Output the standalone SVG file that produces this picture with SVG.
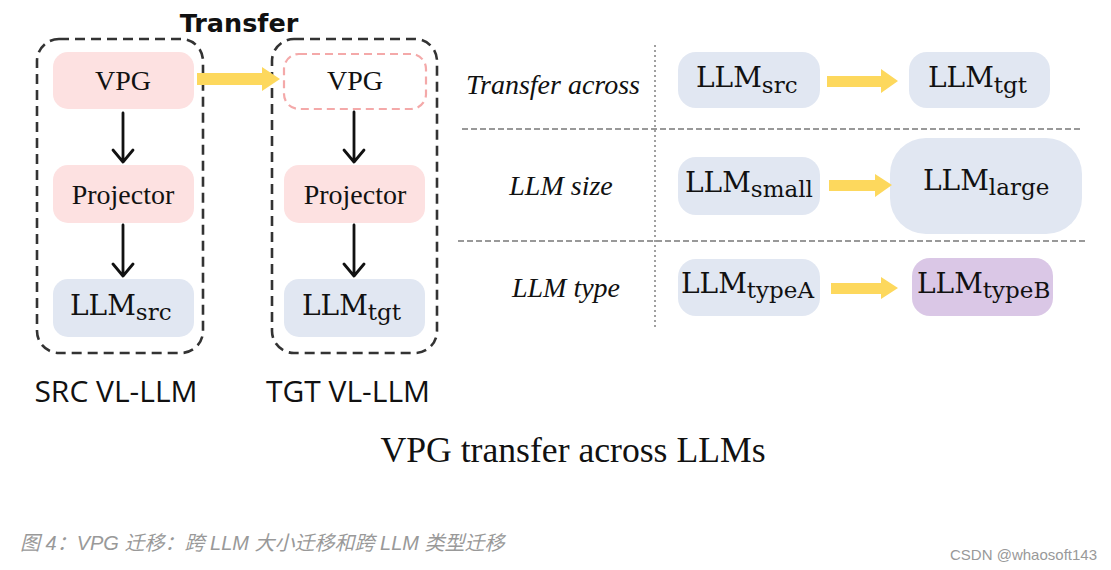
<svg xmlns="http://www.w3.org/2000/svg" width="1111" height="570" viewBox="0 0 1111 570">
<style>
.grp{fill:none;stroke:#333;stroke-width:2.6;stroke-dasharray:10 6}
.pink{fill:#fde1e1}
.blue{fill:#e1e7f2}
.purple{fill:#dac7e6}
.t{font-family:"Liberation Serif",serif;font-size:28px;fill:#111;text-anchor:middle}
.m{font-family:"DejaVu Serif",serif;font-size:28px;fill:#111}
.s{font-size:23px}
.lab{font-family:"Liberation Serif",serif;font-style:italic;font-size:28px;fill:#111;text-anchor:middle}
.ttl{font-family:"Open Sans",sans-serif;font-size:30px;fill:#111;text-anchor:middle}
.yel{fill:#fdd85d}
.blk{fill:none;stroke:#111;stroke-width:2.8;stroke-linecap:round;stroke-linejoin:round}
</style>
<rect width="1111" height="570" fill="#fff"/>

<g id="src-group">
<rect class="grp" x="37" y="39" width="166" height="314" rx="22"/>
<text class="ttl" x="116" y="402">SRC VL-LLM</text>
</g>
<g id="tgt-group">
<rect class="grp" x="272" y="39" width="165" height="314" rx="22"/>
<text class="ttl" x="348" y="402">TGT VL-LLM</text>
</g>
<g id="transfer-label">
<text x="239" y="32" font-family="DejaVu Sans, sans-serif" font-weight="bold" font-size="25.5" text-anchor="middle" fill="#111">Transfer</text>
</g>

<g id="src-vpg"><rect class="pink" x="53" y="52" width="141" height="57" rx="15"/><text class="t" x="123" y="90">VPG</text></g>
<g id="src-proj"><rect class="pink" x="53" y="165" width="141" height="58" rx="15"/><text class="t" x="123" y="204">Projector</text></g>
<g id="src-llm"><rect class="blue" x="53" y="279" width="141" height="58" rx="15"/><text class="m" x="70" y="315">LLM<tspan class="s" dy="5">src</tspan></text></g>

<g id="tgt-vpg"><rect x="284" y="54" width="142" height="55" rx="15" fill="#fff" stroke="#f4a9a9" stroke-width="2.2" stroke-dasharray="8 5"/><text class="t" x="355" y="90">VPG</text></g>
<g id="tgt-proj"><rect class="pink" x="284" y="165" width="141" height="58" rx="15"/><text class="t" x="355" y="204">Projector</text></g>
<g id="tgt-llm"><rect class="blue" x="284" y="279" width="141" height="58" rx="15"/><text class="m" x="302" y="315">LLM<tspan class="s" dy="5">tgt</tspan></text></g>

<g id="r1-src"><rect class="blue" x="678" y="52" width="142" height="56" rx="18"/><text class="m" x="696" y="87">LLM<tspan class="s" dy="6">src</tspan></text></g>
<g id="r1-tgt"><rect class="blue" x="909" y="52" width="141" height="56" rx="18"/><text class="m" x="928" y="87">LLM<tspan class="s" dy="6">tgt</tspan></text></g>
<g id="r2-small"><rect class="blue" x="678" y="157" width="142" height="58" rx="18"/><text class="m" x="685" y="192">LLM<tspan class="s" dy="5">small</tspan></text></g>
<g id="r2-large"><rect class="blue" x="890" y="138" width="192" height="96" rx="36"/><text class="m" x="923" y="190">LLM<tspan class="s" dy="5">large</tspan></text></g>
<g id="r3-typeA"><rect class="blue" x="678" y="259" width="142" height="57" rx="18"/><text class="m" x="681" y="293">LLM<tspan class="s" dy="5">typeA</tspan></text></g>
<g id="r3-typeB"><rect class="purple" x="912" y="258" width="141" height="58" rx="18"/><text class="m" x="917" y="293">LLM<tspan class="s" dy="5">typeB</tspan></text></g>

<g id="row-labels">
<text class="lab" x="553" y="94">Transfer across</text>
<text class="lab" x="561" y="195">LLM size</text>
<text class="lab" x="566" y="297">LLM type</text>
</g>

<g id="connectors">
<polygon class="yel" points="197,73 262,73 262,67 280,79 262,91 262,85 197,85"/>
<polygon class="yel" points="827,76 881,76 881,69 898,81 881,93 881,87 827,87"/>
<polygon class="yel" points="829,180 875,180 875,174 892,185 875,197 875,191 829,191"/>
<polygon class="yel" points="831,283 881,283 881,277 898,288 881,299 881,294 831,294"/>
<path class="blk" d="M123,113 V162 M113,150 L123,162 L133,150"/>
<path class="blk" d="M123,225 V276 M113,264 L123,276 L133,264"/>
<path class="blk" d="M354,112 V162 M344,150 L354,162 L364,150"/>
<path class="blk" d="M354,225 V276 M344,264 L354,276 L364,264"/>
<line x1="655" y1="45" x2="655" y2="330" stroke="#888" stroke-width="1.6" stroke-dasharray="2 3"/>
<line x1="462" y1="129" x2="1083" y2="129" stroke="#999" stroke-width="2" stroke-dasharray="6 3"/>
<line x1="458" y1="241" x2="1085" y2="241" stroke="#999" stroke-width="2" stroke-dasharray="6 3"/>
</g>

<text x="573" y="462" font-family="Liberation Serif, serif" font-size="36" fill="#111" text-anchor="middle" textLength="385" lengthAdjust="spacingAndGlyphs">VPG transfer across LLMs</text>
<text x="20" y="550" font-family="Liberation Sans, 'Noto Sans CJK SC', sans-serif" font-style="italic" font-size="20" fill="#999">图 4：VPG 迁移：跨 LLM 大小迁移和跨 LLM 类型迁移</text>
<text x="1097" y="560" font-family="Liberation Sans, sans-serif" font-size="15" fill="#999" text-anchor="end">CSDN @whaosoft143</text>
</svg>
